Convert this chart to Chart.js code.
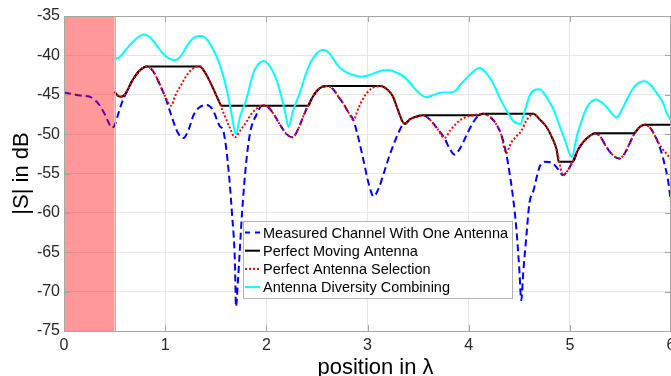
<!DOCTYPE html>
<html><head><meta charset="utf-8">
<script src="https://cdn.jsdelivr.net/npm/chart.js@4.4.1/dist/chart.umd.min.js"></script>
<style>
html,body{margin:0;padding:0;overflow:hidden;background:#fff;width:671px;height:376px}
#wrap{position:absolute;left:0;top:0;width:691px;height:390px}
</style>
</head><body><div id="wrap"><canvas id="c" width="691" height="390"></canvas></div>
<script>
// ---- data (position in wavelengths, |S| in dB) ----
const seriesLabels = ['Measured Channel With One Antenna','Perfect Moving Antenna','Perfect Antenna Selection','Antenna Diversity Combining'];
const xTitle = 'position in λ';
const yTitle = '|S| in dB';
const xTicks = [0,1,2,3,4,5,6];
const yTicks = [-75,-70,-65,-60,-55,-50,-45,-40,-35];
const shadedRegion = [0, 0.5];

const posMeasured = [0.00,0.08,0.16,0.24,0.30,0.35,0.40,0.44,0.47,0.50,0.53,0.57,0.62,0.68,0.75,0.82,0.88,0.94,1.00,1.06,1.12,1.18,1.23,1.28,1.34,1.41,1.47,1.54,1.575,1.62,1.66,1.69,1.70,1.72,1.76,1.80,1.84,1.90,1.96,2.02,2.08,2.14,2.20,2.26,2.32,2.38,2.44,2.50,2.56,2.60,2.66,2.72,2.76,2.81,2.86,2.91,2.96,3.01,3.06,3.11,3.16,3.21,3.25,3.30,3.35,3.37,3.42,3.48,3.55,3.62,3.69,3.76,3.81,3.86,3.92,3.98,4.04,4.10,4.14,4.20,4.26,4.32,4.37,4.41,4.44,4.47,4.50,4.52,4.54,4.57,4.60,4.64,4.70,4.75,4.82,4.88,4.93,4.98,5.03,5.08,5.14,5.20,5.25,5.30,5.36,5.42,5.49,5.54,5.59,5.64,5.69,5.74,5.80,5.86,5.90,5.94,5.97,6.00];
const valMeasured = [-44.7,-44.9,-45.1,-45.2,-45.6,-46.3,-47.4,-48.5,-49.2,-48.9,-47.7,-46.1,-44.6,-43.1,-41.9,-41.4,-42.0,-43.5,-45.3,-47.6,-49.7,-50.5,-49.5,-47.6,-46.6,-46.3,-46.9,-49.0,-49.6,-53.7,-60.0,-66.4,-71.9,-68.5,-60.0,-53.7,-49.8,-47.6,-46.4,-46.6,-47.6,-48.9,-50.0,-50.4,-49.2,-47.3,-45.7,-44.5,-43.95,-43.9,-44.3,-45.4,-46.1,-47.2,-48.2,-50.5,-53.3,-56.2,-57.9,-56.9,-55.0,-53.0,-51.6,-50.0,-48.8,-48.7,-48.1,-47.8,-47.6,-48.2,-49.3,-50.5,-51.8,-52.6,-51.7,-50.1,-48.6,-47.6,-47.4,-47.7,-48.5,-50.0,-52.4,-55.4,-58.2,-61.8,-67.0,-71.1,-67.5,-63.0,-58.8,-57.2,-54.2,-53.5,-53.6,-54.4,-55.2,-54.6,-53.4,-52.0,-50.9,-50.2,-49.9,-50.3,-51.6,-52.6,-53.1,-52.5,-51.2,-49.9,-49.1,-48.8,-49.3,-50.7,-52.1,-54.0,-55.8,-58.7];

const posMoving = [0.50,0.53,0.56,0.60,0.64,0.68,0.75,0.82,1.34,1.40,1.46,1.52,1.56,2.415,2.44,2.50,2.56,2.60,3.13,3.20,3.25,3.30,3.35,3.37,3.42,3.48,3.55,4.10,4.14,4.64,4.70,4.77,4.83,4.87,4.89,5.03,5.08,5.14,5.20,5.25,5.63,5.69,5.74,6.00];
const valMoving = [-44.6,-45.1,-45.25,-45.0,-44.1,-43.1,-41.9,-41.4,-41.4,-42.3,-43.8,-45.5,-46.4,-46.4,-45.7,-44.5,-43.95,-43.9,-43.9,-44.4,-45.2,-46.9,-48.5,-48.7,-48.1,-47.8,-47.6,-47.6,-47.4,-47.4,-48.1,-49.1,-50.6,-52.0,-53.5,-53.5,-52.0,-50.9,-50.2,-49.9,-49.9,-49.1,-48.8,-48.8];

const posSelection = [0.50,0.53,0.56,0.60,0.64,0.68,0.75,0.82,0.88,0.94,1.00,1.06,1.10,1.16,1.22,1.28,1.34,1.40,1.46,1.52,1.58,1.64,1.69,1.74,1.80,1.86,1.92,1.97,2.02,2.08,2.14,2.20,2.26,2.32,2.38,2.44,2.50,2.56,2.60,2.66,2.72,2.76,2.81,2.86,2.91,2.97,3.03,3.09,3.13,3.20,3.25,3.30,3.35,3.37,3.42,3.48,3.55,3.62,3.69,3.76,3.82,3.89,3.96,4.05,4.14,4.20,4.26,4.32,4.37,4.42,4.47,4.52,4.57,4.62,4.64,4.70,4.77,4.83,4.87,4.90,4.93,4.98,5.03,5.08,5.14,5.20,5.25,5.30,5.36,5.42,5.49,5.54,5.59,5.64,5.69,5.74,5.80,5.86,5.90,5.95,6.00];
const valSelection = [-44.6,-45.1,-45.25,-45.0,-44.1,-43.1,-41.9,-41.4,-42.0,-43.5,-45.2,-46.4,-45.1,-43.7,-42.4,-41.6,-41.35,-42.3,-43.8,-45.5,-47.4,-49.2,-50.4,-49.6,-48.5,-47.3,-46.6,-46.3,-46.6,-47.6,-48.9,-50.0,-50.4,-49.2,-47.3,-45.7,-44.5,-43.95,-43.9,-44.3,-45.4,-46.1,-47.2,-48.2,-46.7,-45.2,-44.3,-43.95,-43.9,-44.4,-45.2,-46.9,-48.5,-48.7,-48.1,-47.8,-47.6,-48.2,-49.3,-50.5,-49.5,-48.5,-47.9,-47.6,-47.4,-47.7,-48.5,-50.0,-52.4,-51.1,-50.3,-49.6,-48.3,-47.5,-47.4,-48.1,-49.1,-50.6,-52.0,-53.8,-55.2,-54.6,-53.4,-52.0,-50.9,-50.2,-49.9,-50.3,-51.6,-52.6,-53.1,-52.5,-51.2,-49.9,-49.1,-48.8,-49.3,-50.7,-51.6,-52.4,-53.2];

const posCombining = [0.50,0.55,0.61,0.68,0.74,0.79,0.85,0.92,0.98,1.04,1.10,1.16,1.22,1.28,1.34,1.39,1.45,1.51,1.56,1.61,1.65,1.70,1.74,1.80,1.87,1.92,1.97,2.03,2.10,2.15,2.19,2.22,2.26,2.33,2.39,2.45,2.51,2.56,2.62,2.68,2.73,2.80,2.86,2.94,3.02,3.10,3.16,3.22,3.29,3.35,3.42,3.48,3.53,3.58,3.64,3.70,3.75,3.82,3.87,3.92,3.98,4.05,4.11,4.17,4.24,4.30,4.37,4.44,4.51,4.56,4.60,4.65,4.70,4.77,4.84,4.90,4.95,5.02,5.07,5.13,5.19,5.26,5.31,5.36,5.41,5.46,5.51,5.56,5.62,5.68,5.74,5.80,5.86,5.92,5.96,6.00];
const valCombining = [-40.5,-40.2,-39.3,-38.3,-37.6,-37.35,-37.7,-38.8,-39.8,-40.4,-40.6,-40.0,-38.7,-37.8,-37.55,-37.7,-38.7,-40.2,-42.0,-44.4,-47.0,-50.0,-47.8,-45.7,-42.3,-41.1,-40.7,-41.3,-43.1,-45.3,-47.5,-49.1,-47.2,-44.8,-42.4,-40.6,-39.6,-39.3,-39.7,-40.8,-41.6,-42.2,-42.5,-42.7,-42.5,-42.1,-41.9,-41.9,-42.2,-42.6,-43.5,-44.4,-45.0,-45.3,-45.1,-44.8,-44.7,-44.7,-44.5,-43.7,-42.9,-42.0,-41.6,-42.2,-43.5,-45.2,-46.9,-48.3,-48.7,-46.8,-45.2,-44.4,-44.3,-45.3,-46.9,-49.0,-50.7,-52.9,-50.2,-47.8,-46.2,-45.6,-45.9,-46.5,-47.3,-47.9,-47.0,-45.7,-44.3,-43.5,-43.3,-43.8,-44.8,-46.0,-47.4,-48.3];

const toPoints = (xs, ys) => xs.map((v, i) => ({x: v, y: ys[i]}));
const FONT = '"Liberation Sans", Arial, Helvetica, sans-serif';
const AXIS_GRAY = '#a6a6a6';

const shadePlugin = {
  id: 'shade',
  afterDatasetsDraw(chart) {
    const {ctx, chartArea: a, scales: {x}} = chart;
    const x0 = x.getPixelForValue(shadedRegion[0]);
    const x1 = x.getPixelForValue(shadedRegion[1]);
    ctx.save();
    ctx.fillStyle = 'rgba(255,0,0,0.4)';
    ctx.fillRect(x0, a.top, x1 - x0, a.bottom - a.top);
    ctx.strokeStyle = '#b8b8b8';
    ctx.lineWidth = 1;
    ctx.beginPath();
    ctx.moveTo(Math.round(x1) + 0.5, a.top);
    ctx.lineTo(Math.round(x1) + 0.5, a.bottom);
    ctx.stroke();
    ctx.restore();
  }
};

const boxPlugin = {
  id: 'box',
  afterDraw(chart) {
    const {ctx, chartArea: a, scales: {x, y}} = chart;
    ctx.save();
    ctx.strokeStyle = AXIS_GRAY;
    ctx.lineWidth = 1;
    ctx.beginPath();
    xTicks.forEach(v => {
      const px = Math.round(x.getPixelForValue(v)) + 0.5;
      ctx.moveTo(px, a.bottom); ctx.lineTo(px, a.bottom - 6);
      ctx.moveTo(px, a.top); ctx.lineTo(px, a.top + 6);
    });
    yTicks.forEach(v => {
      const py = Math.round(y.getPixelForValue(v)) + 0.5;
      ctx.moveTo(a.left, py); ctx.lineTo(a.left + 6, py);
      ctx.moveTo(a.right, py); ctx.lineTo(a.right - 6, py);
    });
    ctx.moveTo(a.left, Math.round(a.top) + 0.5); ctx.lineTo(a.right, Math.round(a.top) + 0.5);
    ctx.moveTo(Math.round(a.right) - 0.5, a.top); ctx.lineTo(Math.round(a.right) - 0.5, a.bottom);
    ctx.moveTo(Math.round(a.left) + 0.5, a.top); ctx.lineTo(Math.round(a.left) + 0.5, a.bottom);
    ctx.stroke();

    // x axis title (slightly right of centre, as in the original figure)
    ctx.fillStyle = '#000';
    ctx.font = '22px ' + FONT;
    ctx.textAlign = 'center';
    ctx.textBaseline = 'alphabetic';
    ctx.fillText(xTitle, 375.5, 374);

    // legend
    const L = 243, T = 221, R = 513, B = 299;
    ctx.fillStyle = '#ffffff';
    ctx.fillRect(L, T, R - L, B - T);
    ctx.strokeStyle = '#b4b4b4';
    ctx.strokeRect(L + 0.5, T + 0.5, R - L - 1, B - T - 1);
    ctx.font = '14.5px ' + FONT;
    ctx.textBaseline = 'middle';
    ctx.textAlign = 'left';
    chart.data.datasets.forEach((ds, i) => {
      const cy = 232.5 + i * 18.2;
      ctx.save();
      ctx.strokeStyle = ds.borderColor;
      ctx.lineWidth = ds.borderWidth;
      ctx.setLineDash(i === 0 ? [5, 5] : (ds.borderDash || []));
      ctx.beginPath();
      ctx.moveTo(245, cy); ctx.lineTo(260, cy);
      ctx.stroke();
      ctx.restore();
      ctx.fillStyle = '#000';
      ctx.fillText(ds.label, 263, cy + 1);
    });
    ctx.restore();
  }
};

new Chart(document.getElementById('c'), {
  type: 'line',
  data: {
    datasets: [
      {label: seriesLabels[0], data: toPoints(posMeasured, valMeasured), borderColor: '#0000ff', borderWidth: 2, borderDash: [7, 4], order: 4},
      {label: seriesLabels[1], data: toPoints(posMoving, valMoving), borderColor: '#000000', borderWidth: 2, order: 3},
      {label: seriesLabels[2], data: toPoints(posSelection, valSelection), borderColor: '#ff0000', borderWidth: 2, borderDash: [2, 2], order: 2},
      {label: seriesLabels[3], data: toPoints(posCombining, valCombining), borderColor: '#00ffff', borderWidth: 2, order: 1}
    ]
  },
  options: {
    responsive: false,
    animation: false,
    devicePixelRatio: 1,
    layout: {padding: {left: 0, top: 16, right: 20, bottom: 0}},
    elements: {point: {radius: 0, hoverRadius: 0}, line: {cubicInterpolationMode: 'monotone', fill: false}},
    plugins: {legend: {display: false}, tooltip: {enabled: false}},
    events: [],
    scales: {
      x: {
        type: 'linear', min: 0, max: 6,
        afterBuildTicks: s => { s.ticks = xTicks.map(v => ({value: v})); },
        afterFit: s => { s.height = 59; },
        grid: {color: '#e6e6e6', drawTicks: false},
        border: {color: AXIS_GRAY},
        ticks: {padding: 5, color: '#262626', font: {size: 16, family: FONT}, maxRotation: 0, autoSkip: false},
        title: {display: false}
      },
      y: {
        type: 'linear', min: -75, max: -35,
        afterBuildTicks: s => { s.ticks = yTicks.map(v => ({value: v})); },
        afterFit: s => { s.width = 64; },
        grid: {color: '#e6e6e6', drawTicks: false},
        border: {color: AXIS_GRAY},
        ticks: {padding: 4, color: '#262626', font: {size: 16, family: FONT}, autoSkip: false},
        title: {display: true, text: yTitle, color: '#000', font: {size: 22, family: FONT}, padding: {top: 9, bottom: 0}}
      }
    }
  },
  plugins: [shadePlugin, boxPlugin]
});
</script></body></html>
